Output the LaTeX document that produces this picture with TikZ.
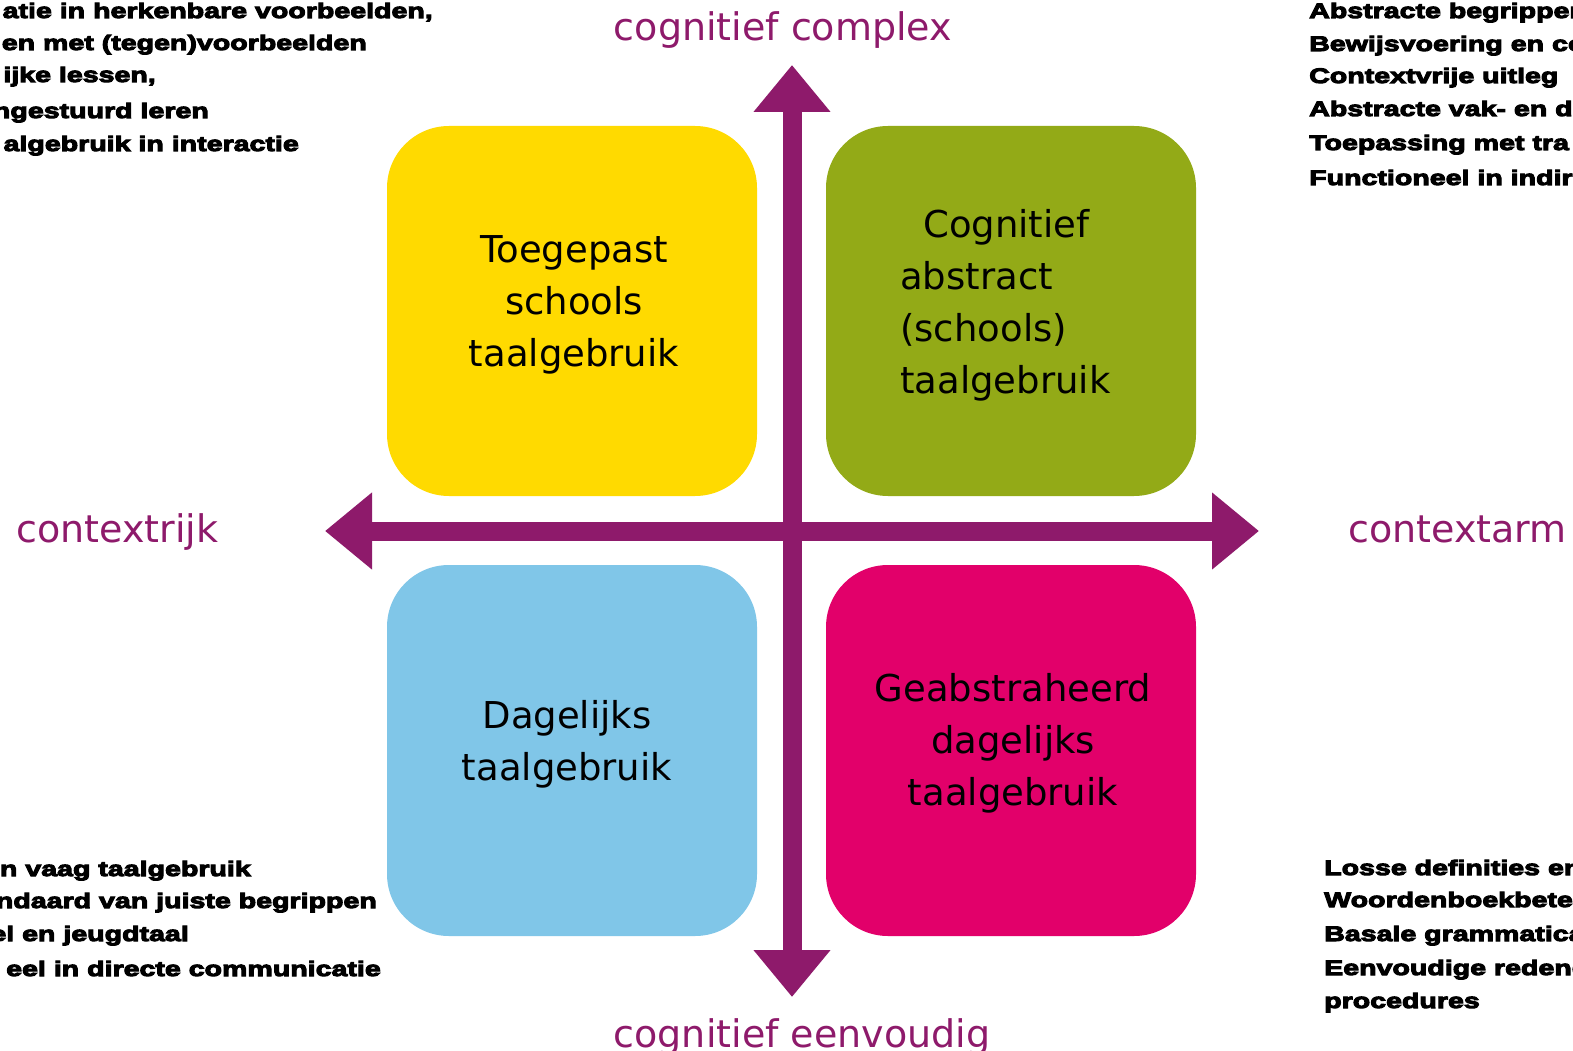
\documentclass[tikz,border=0pt]{standalone}
\usepackage{fontspec}
\setmainfont{DejaVu Sans}
\newfontfamily\heavy[FakeBold=5,FakeStretch=1.36]{Liberation Sans Bold}
\usetikzlibrary{arrows.meta}
\definecolor{axispurple}{HTML}{8E1A6B}
\definecolor{qyellow}{HTML}{FFDA00}
\definecolor{qgreen}{HTML}{93AA17}
\definecolor{qblue}{HTML}{80C6E8}
\definecolor{qpink}{HTML}{E2006A}
\tikzset{
  quad/.style={rounded corners=62pt, draw=none},
  qtext/.style={font=\fontsize{37}{52}\selectfont, text=black, inner sep=0pt},
  axislabel/.style={font=\fontsize{38}{44}\selectfont, text=axispurple, inner sep=0pt},
  axis/.style={line width=19pt, draw=axispurple,
    {Triangle[length=47pt,width=74pt]}-{Triangle[length=47pt,width=74pt]}},
  note/.style={font=\heavy\fontsize{21}{24}\selectfont, inner sep=0pt}
}
\begin{document}
\begin{tikzpicture}[x=1pt,y=-1pt]
\useasboundingbox (0,0) rectangle (1573,1051);
\clip (0,0) rectangle (1573,1051);
\fill[white] (0,0) rectangle (1573,1051);
% quadrants
\fill[quad, qyellow] (387,126) rectangle (757,496);
\fill[quad, qgreen] (826,126) rectangle (1196,496);
\fill[quad, qblue] (387,565) rectangle (757,936);
\fill[quad, qpink] (826,565) rectangle (1196,936);
% axes
\coordinate (xl) at (325,531);
\coordinate (xr) at (1259,531);
\coordinate (yt) at (792,65);
\coordinate (yb) at (792,997);
\draw[axis] (xl) -- (xr);
\draw[axis] (yb) -- (yt);
% quadrant texts
\node[qtext, align=center] (tq1) at (574,305) {Toegepast\\schools\\taalgebruik};
\node[qtext, align=left, anchor=west] (tq2) at (900,305) {\hspace{23pt}Cognitief\\abstract\\(schools)\\taalgebruik};
\node[qtext, align=center] (tq3) at (567,744) {Dagelijks\\taalgebruik};
\node[qtext, align=center] (tq4) at (1013,743) {Geabstraheerd\\dagelijks\\taalgebruik};
% axis labels
\node[axislabel, anchor=base] (lt) at (783,41) {cognitief complex};
\node[axislabel, anchor=base west] (ll) at (16,542) {contextrijk};
\node[axislabel, anchor=base west] (lr) at (1348,542) {contextarm};
\node[axislabel, anchor=base] (lb) at (802,1047) {cognitief eenvoudig};
% top-left notes
\node[note, anchor=base east] (n1) at (433,18) {atie in herkenbare voorbeelden,};
\node[note, anchor=base east] (n2) at (367,50) {en met (tegen)voorbeelden};
\node[note, anchor=base east] (n3) at (156,82) {ijke lessen,};
\node[note, anchor=base east] (n4) at (209,118) {ngestuurd leren};
\node[note, anchor=base east] (n5) at (299,151) {algebruik in interactie};
% top-right notes
\node[note, anchor=base west] (m1) at (1309,18) {Abstracte begrippen};
\node[note, anchor=base west] (m2) at (1309,51) {Bewijsvoering en co};
\node[note, anchor=base west] (m3) at (1309,83) {Contextvrije uitleg};
\node[note, anchor=base west] (m4) at (1309,116) {Abstracte vak- en d};
\node[note, anchor=base west] (m5) at (1309,150) {Toepassing met tra};
\node[note, anchor=base west] (m6) at (1309,185) {Functioneel in indir};
% bottom-left notes
\node[note, anchor=base east] (b1) at (251,876) {n vaag taalgebruik};
\node[note, anchor=base east] (b2) at (377,908) {ndaard van juiste begrippen};
\node[note, anchor=base east] (b3) at (189,941) {el en jeugdtaal};
\node[note, anchor=base east] (b4) at (381,976) {eel in directe communicatie};
% bottom-right notes
\node[note, anchor=base west] (c1) at (1324,875) {Losse definities en};
\node[note, anchor=base west] (c2) at (1324,907) {Woordenboekbete};
\node[note, anchor=base west] (c3) at (1324,941) {Basale grammatica};
\node[note, anchor=base west] (c4) at (1324,975) {Eenvoudige redene};
\node[note, anchor=base west] (c5) at (1324,1008) {procedures};
\end{tikzpicture}
\end{document}
